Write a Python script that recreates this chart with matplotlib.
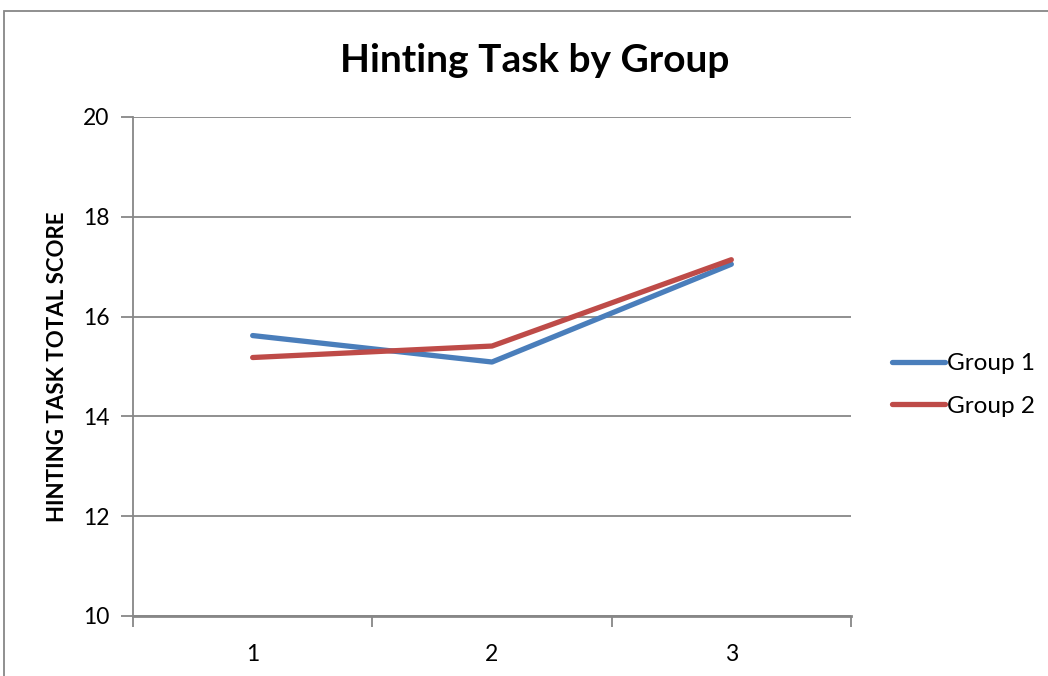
import matplotlib.pyplot as plt
from matplotlib.patches import Rectangle

plt.rcParams["font.family"] = ["Lato", "DejaVu Sans"]

categories = ["1", "2", "3"]
group1 = [15.62, 15.09, 17.05]
group2 = [15.18, 15.41, 17.14]

fig = plt.figure(figsize=(10.48, 6.76), dpi=100)
ax = fig.add_axes([133 / 1048, 1 - 616 / 676, (851 - 133) / 1048, (616 - 117) / 676])

# outer chart frame
fig.patches.append(Rectangle((4 / 1048, -0.1), 1.2, 1 - 11 / 676 + 0.1,
                             transform=fig.transFigure, fill=False,
                             edgecolor="#878787", linewidth=1.3))

x = range(len(categories))
ax.plot(x, group1, color="#4a7ebb", linewidth=3.8, solid_capstyle="round", label="Group 1")
ax.plot(x, group2, color="#be4b48", linewidth=3.8, solid_capstyle="round", label="Group 2")

ax.set_xlim(-0.5, len(categories) - 0.5)
ax.set_ylim(10, 20)
ax.set_yticks(range(10, 21, 2))
ax.set_xticks(list(x))
ax.set_xticklabels(categories)
ax.set_xticks([i - 0.5 for i in range(len(categories) + 1)], minor=True)
ax.tick_params(axis="x", which="major", length=0, pad=20, labelsize=16.5)
ax.tick_params(axis="x", which="minor", length=8, color="#878787", width=1.3, direction="out")
ax.tick_params(axis="y", length=9, color="#878787", width=1.3, labelsize=16.5, pad=8)

ax.grid(axis="y", color="#878787", linewidth=1.3)
ax.set_axisbelow(True)
for side in ["top", "right"]:
    ax.spines[side].set_visible(False)
ax.spines["left"].set_color("#878787")
ax.spines["bottom"].set_color("#878787")
ax.spines["left"].set_linewidth(1.3)
ax.spines["bottom"].set_linewidth(2)

ax.set_ylabel("HINTING TASK TOTAL SCORE", fontsize=16, fontweight="bold")
ax.yaxis.set_label_coords(-0.091, 0.5)
fig.suptitle("Hinting Task by Group", x=535 / 1048, y=1 - 61 / 676, va="center",
             fontsize=28, fontweight="bold")

ax.legend(loc="center left", bbox_to_anchor=(1.026, 0.463), frameon=False,
          fontsize=17.5, handlelength=2.2, handletextpad=0.1, labelspacing=0.9)

fig.savefig("out.png", dpi=100)
